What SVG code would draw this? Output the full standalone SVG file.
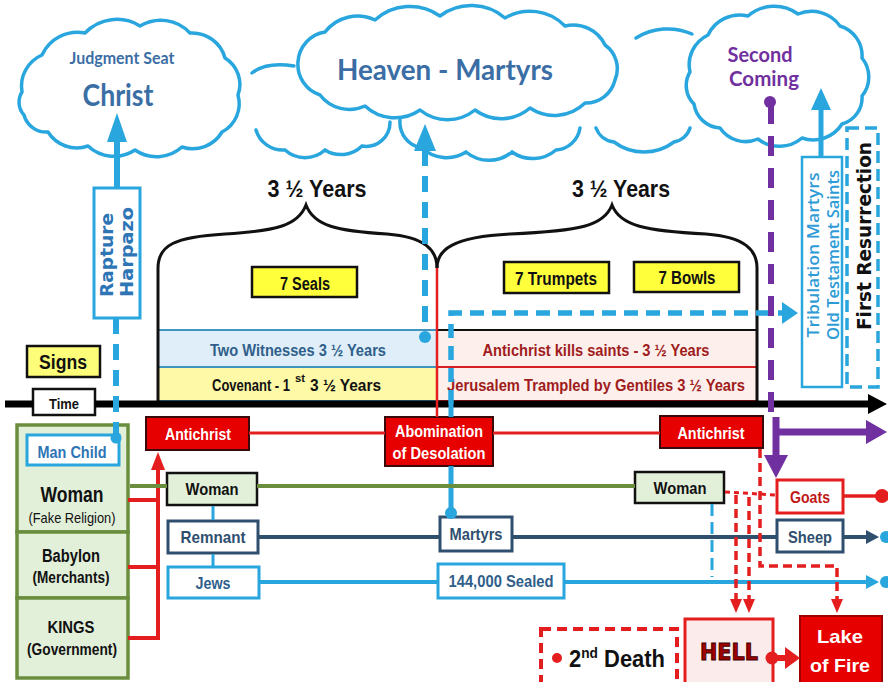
<svg xmlns="http://www.w3.org/2000/svg" width="888" height="682" viewBox="0 0 888 682">
<style>
.cloud{fill:#fff;stroke:#29a6de;stroke-width:3.5;stroke-linejoin:round}
.cl{fill:none;stroke:#29a6de;stroke-width:3.5;stroke-linecap:round}
.cal{font-family:Lato,"Open Sans",sans-serif;font-weight:bold;text-anchor:middle}
.nb{font-family:"Liberation Sans Narrow","Liberation Sans",Arial,sans-serif;font-weight:bold;text-anchor:middle}
.ns{font-family:"Liberation Sans Narrow","Liberation Sans",Arial,sans-serif;font-weight:bold;text-anchor:start}
.nr{font-family:"Liberation Sans Narrow","Liberation Sans",Arial,sans-serif;text-anchor:middle}
.vb{font-family:"DejaVu Sans",Verdana,sans-serif;font-weight:bold;text-anchor:middle}
.os{font-family:"Open Sans","DejaVu Sans",sans-serif;font-weight:600;text-anchor:middle}
.yb{fill:#ffff3c;stroke:#111;stroke-width:2.5}
.rb{fill:#e60000;stroke:#3a0a0a;stroke-width:2}
.gb{fill:#e2efd9;stroke:#6b8e3e;stroke-width:3.5}
.wb{fill:#e2efd9;stroke:#111;stroke-width:2.5}
.cy{stroke:#29a6de;fill:none}
.rl{stroke:#e41e1e;fill:none}
.wt{fill:#fff}
</style>

<!-- clouds -->
<g id="cloud-back">
<path class="cl" d="M294,66 C276,63 262,65 252,73"/>
<path class="cl" d="M256,130 A28,28 0 0 0 285,150 A30,30 0 0 0 325,150 A30,30 0 0 0 362,146 A24,24 0 0 0 390,122 M400,120 A26,26 0 0 0 422,148 A36,36 0 0 0 466,152 A36,36 0 0 0 512,152 A36,36 0 0 0 556,150 A26,26 0 0 0 580,128 M596,128 A22,22 0 0 0 614,142 A50,50 0 0 0 674,142 A20,20 0 0 0 690,128"/>
<path class="cl" d="M636,38 A60,60 0 0 1 692,34"/>
</g>
<g id="cloud-judgment">
<path class="cloud" d="M22,92 A34,34 0 0 1 42,55 A39,39 0 0 1 85,33 A44,44 0 0 1 140,26 A40,40 0 0 1 190,33 A34,34 0 0 1 225,58 A31,31 0 0 1 238,95 A32,32 0 0 1 222,132 A34,34 0 0 1 182,147 A38,38 0 0 1 135,150 A38,38 0 0 1 88,146 A34,34 0 0 1 48,132 A23,23 0 0 1 24,115 A19,19 0 0 1 22,92 Z"/>
<text class="cal" x="122" y="64" font-size="17" fill="#3b6ea5" textLength="105" lengthAdjust="spacingAndGlyphs">Judgment Seat</text>
<text class="cal" x="118" y="106" font-size="30" fill="#3b6ea5" textLength="71" lengthAdjust="spacingAndGlyphs">Christ</text>
</g>
<g id="cloud-heaven">
<path class="cloud" d="M298,62 A32,32 0 0 1 325,32 A41,41 0 0 1 375,20 A52,52 0 0 1 440,16 A52,52 0 0 1 505,18 A49,49 0 0 1 565,26 A35,35 0 0 1 605,45 A29,29 0 0 1 615,80 A30,30 0 0 1 585,103 A44,44 0 0 1 530,108 A44,44 0 0 1 475,110 A44,44 0 0 1 420,110 A44,44 0 0 1 365,106 A37,37 0 0 1 320,95 A32,32 0 0 1 298,62 Z"/>
<text class="cal" x="445" y="80" font-size="29" fill="#3b6ea5" textLength="216" lengthAdjust="spacingAndGlyphs">Heaven - Martyrs</text>
</g>
<g id="cloud-second">
<path class="cloud" d="M690,72 A33,33 0 0 1 708,35 A35,35 0 0 1 748,16 A40,40 0 0 1 798,14 A35,35 0 0 1 840,26 A31,31 0 0 1 862,58 A30,30 0 0 1 862,96 A27,27 0 0 1 842,124 A34,34 0 0 1 802,138 A35,35 0 0 1 758,139 A31,31 0 0 1 720,128 A28,28 0 0 1 694,104 A26,26 0 0 1 690,72 Z"/>
<text class="cal" x="760" y="62" font-size="21" fill="#7030a0" textLength="65" lengthAdjust="spacingAndGlyphs">Second</text>
<text class="cal" x="764" y="86" font-size="21" fill="#7030a0" textLength="70" lengthAdjust="spacingAndGlyphs">Coming</text>
</g>

<!-- braces and bands -->
<g id="band-first">
<rect x="158" y="330" width="279" height="37" fill="#dfeef8" stroke="#3f95bd" stroke-width="2"/>
<rect x="158" y="367" width="279" height="34" fill="#fdf9a6" stroke="#3f95bd" stroke-width="2"/>
<text class="nb" x="298" y="356" font-size="17" fill="#2f5f8a" textLength="176" lengthAdjust="spacingAndGlyphs">Two Witnesses 3 ½ Years</text>
<text class="ns" x="212" y="391" font-size="17" fill="#111" textLength="78" lengthAdjust="spacingAndGlyphs">Covenant - 1</text>
<text class="ns" x="295" y="382" font-size="10" fill="#111" textLength="10" lengthAdjust="spacingAndGlyphs">st</text>
<text class="ns" x="310" y="391" font-size="17" fill="#111" textLength="71" lengthAdjust="spacingAndGlyphs">3 ½ Years</text>
</g>
<g id="band-second">
<rect x="437" y="330" width="320" height="37" fill="#fcefec" stroke="#111" stroke-width="2"/>
<rect x="437" y="367" width="320" height="34" fill="#fcefec" stroke="#d42020" stroke-width="2"/>
<text class="nb" x="596" y="356" font-size="17" fill="#a01c1c" textLength="227" lengthAdjust="spacingAndGlyphs">Antichrist kills saints - 3 ½ Years</text>
<text class="nb" x="596" y="391" font-size="17" fill="#a01c1c" textLength="298" lengthAdjust="spacingAndGlyphs">Jerusalem Trampled by Gentiles 3 ½ Years</text>
</g>
<g id="brace-left">
<path d="M158,402 V268 C158,245 175,237 225,234 C275,231 298,226 306,205 C314,226 337,231 387,234 C425,237 437,250 437,268" fill="none" stroke="#111" stroke-width="3"/>
<text class="nb" x="317" y="197" font-size="24" fill="#111" textLength="99" lengthAdjust="spacingAndGlyphs">3 ½ Years</text>
</g>
<g id="brace-right">
<path d="M437,268 C437,250 452,237 510,234 C580,231 604,226 612,205 C620,226 646,231 706,234 C745,237 757,250 757,268 V402" fill="none" stroke="#111" stroke-width="3"/>
<text class="nb" x="621" y="197" font-size="24" fill="#111" textLength="98" lengthAdjust="spacingAndGlyphs">3 ½ Years</text>
</g>

<!-- nodes -->
<g id="rapture">
<rect x="94" y="188" width="46" height="130" fill="#fff" stroke="#29a6de" stroke-width="3"/>
<text class="vb" transform="translate(113,255) rotate(-90)" font-size="18" fill="#2e75b6" textLength="84" lengthAdjust="spacingAndGlyphs">Rapture</text>
<text class="vb" transform="translate(133,252) rotate(-90)" font-size="18" fill="#2e75b6" textLength="90" lengthAdjust="spacingAndGlyphs">Harpazo</text>
</g>
<g id="tribulation">
<rect x="802" y="157" width="40" height="230" fill="#fff" stroke="#29a6de" stroke-width="2.5"/>
<text class="os" transform="translate(819,255) rotate(-90)" font-size="17" fill="#2e9bd6" textLength="165" lengthAdjust="spacingAndGlyphs">Tribulation Martyrs</text>
<text class="os" transform="translate(839,255) rotate(-90)" font-size="17" fill="#2e9bd6" textLength="170" lengthAdjust="spacingAndGlyphs">Old Testament Saints</text>
</g>
<g id="first-resurrection">
<rect x="847" y="128" width="31" height="259" fill="#fff" stroke="#29a6de" stroke-width="3.5" stroke-dasharray="12 6"/>
<text class="vb" transform="translate(871,236) rotate(-90)" font-size="19" fill="#111" textLength="188" lengthAdjust="spacingAndGlyphs">First Resurrection</text>
</g>
<g id="signs">
<rect x="27" y="346" width="73" height="31" fill="#fdfd7a" stroke="#111" stroke-width="2.5"/>
<text class="nb" x="63" y="369" font-size="20" fill="#111" textLength="48" lengthAdjust="spacingAndGlyphs">Signs</text>
</g>
<g id="time">
<rect x="33" y="389" width="62" height="26" fill="#fff" stroke="#111" stroke-width="2.5"/>
<text class="nb" x="64" y="409" font-size="15" fill="#111" textLength="30" lengthAdjust="spacingAndGlyphs">Time</text>
</g>
<g id="seals">
<rect class="yb" x="252" y="267" width="105" height="30"/>
<text class="nb" x="305" y="290" font-size="18" fill="#111" textLength="50" lengthAdjust="spacingAndGlyphs">7 Seals</text>
</g>
<g id="trumpets">
<rect class="yb" x="504" y="262" width="105" height="31"/>
<text class="nb" x="556" y="285" font-size="18" fill="#111" textLength="82" lengthAdjust="spacingAndGlyphs">7 Trumpets</text>
</g>
<g id="bowls">
<rect class="yb" x="634" y="262" width="105" height="30"/>
<text class="nb" x="687" y="284" font-size="18" fill="#111" textLength="57" lengthAdjust="spacingAndGlyphs">7 Bowls</text>
</g>
<g id="antichrist-1">
<rect class="rb" x="146" y="417" width="103" height="33"/>
<text class="nb wt" x="198" y="440" font-size="17" textLength="66" lengthAdjust="spacingAndGlyphs">Antichrist</text>
</g>
<g id="abomination">
<rect class="rb" x="385" y="417" width="108" height="49"/>
<text class="nb wt" x="439" y="437" font-size="17" textLength="88" lengthAdjust="spacingAndGlyphs">Abomination</text>
<text class="nb wt" x="439" y="459" font-size="17" textLength="93" lengthAdjust="spacingAndGlyphs">of Desolation</text>
</g>
<g id="antichrist-2">
<rect class="rb" x="660" y="416" width="103" height="32"/>
<text class="nb wt" x="711" y="439" font-size="17" textLength="67" lengthAdjust="spacingAndGlyphs">Antichrist</text>
</g>
<g id="woman-religion">
<rect class="gb" x="17" y="425" width="111" height="107"/>
<text class="nb" x="72" y="502" font-size="22" fill="#111" textLength="63" lengthAdjust="spacingAndGlyphs">Woman</text>
<text class="nr" x="72" y="523" font-size="15" fill="#111" textLength="87" lengthAdjust="spacingAndGlyphs">(Fake Religion)</text>
</g>
<g id="man-child">
<rect x="27" y="435" width="92" height="30" fill="#fff" stroke="#29a6de" stroke-width="3"/>
<text class="nb" x="72" y="458" font-size="16" fill="#2e75b6" textLength="69" lengthAdjust="spacingAndGlyphs">Man Child</text>
</g>
<g id="babylon">
<rect class="gb" x="17" y="532" width="111" height="66"/>
<text class="nb" x="71" y="562" font-size="18" fill="#111" textLength="58" lengthAdjust="spacingAndGlyphs">Babylon</text>
<text class="nb" x="71" y="583" font-size="17" fill="#111" textLength="77" lengthAdjust="spacingAndGlyphs">(Merchants)</text>
</g>
<g id="kings">
<rect class="gb" x="17" y="598" width="111" height="80"/>
<text class="nb" x="71" y="633" font-size="17" fill="#111" textLength="47" lengthAdjust="spacingAndGlyphs">KINGS</text>
<text class="nb" x="72" y="655" font-size="17" fill="#111" textLength="90" lengthAdjust="spacingAndGlyphs">(Government)</text>
</g>
<g id="woman-1">
<rect class="wb" x="167" y="473" width="90" height="32"/>
<text class="nb" x="212" y="495" font-size="16" fill="#111" textLength="53" lengthAdjust="spacingAndGlyphs">Woman</text>
</g>
<g id="remnant">
<rect x="168" y="521" width="90" height="32" fill="#fff" stroke="#2f4f6f" stroke-width="3"/>
<text class="nb" x="213" y="543" font-size="17" fill="#2f4f6f" textLength="65" lengthAdjust="spacingAndGlyphs">Remnant</text>
</g>
<g id="jews">
<rect x="168" y="567" width="91" height="31" fill="#fff" stroke="#29a6de" stroke-width="3"/>
<text class="nb" x="213" y="589" font-size="17" fill="#2f5f8a" textLength="35" lengthAdjust="spacingAndGlyphs">Jews</text>
</g>
<g id="martyrs">
<rect x="440" y="517" width="72" height="34" fill="#fff" stroke="#2f4f6f" stroke-width="3"/>
<text class="nb" x="476" y="540" font-size="17" fill="#2f4f6f" textLength="53" lengthAdjust="spacingAndGlyphs">Martyrs</text>
</g>
<g id="sealed">
<rect x="438" y="564" width="126" height="34" fill="#fff" stroke="#29a6de" stroke-width="3"/>
<text class="nb" x="501" y="587" font-size="17" fill="#2f5f8a" textLength="105" lengthAdjust="spacingAndGlyphs">144,000 Sealed</text>
</g>
<g id="woman-2">
<rect class="wb" x="635" y="472" width="89" height="31"/>
<text class="nb" x="680" y="494" font-size="16" fill="#111" textLength="53" lengthAdjust="spacingAndGlyphs">Woman</text>
</g>
<g id="goats">
<rect x="777" y="480" width="66" height="33" fill="#fff" stroke="#e41e1e" stroke-width="3"/>
<text class="nb" x="810" y="503" font-size="17" fill="#c01818" textLength="40" lengthAdjust="spacingAndGlyphs">Goats</text>
</g>
<g id="sheep">
<rect x="777" y="520" width="66" height="32" fill="#fff" stroke="#2f4f6f" stroke-width="3"/>
<text class="nb" x="810" y="543" font-size="17" fill="#2f4f6f" textLength="44" lengthAdjust="spacingAndGlyphs">Sheep</text>
</g>
<g id="second-death">
<rect x="541" y="629" width="136" height="60" fill="#fff" stroke="#e41e1e" stroke-width="4" stroke-dasharray="10 6"/>
<circle cx="557" cy="658" r="5" fill="#e41e1e"/>
<text class="nb" x="617" y="667" font-size="24" fill="#111" textLength="96" lengthAdjust="spacingAndGlyphs">2<tspan dy="-9" font-size="15">nd</tspan><tspan dy="9"> Death</tspan></text>
</g>
<g id="hell">
<rect x="685" y="619" width="88" height="70" fill="#fcebeb" stroke="#e41e1e" stroke-width="3"/>
<text class="vb" x="729" y="660" font-size="23" fill="#a00000" stroke="#3a0000" stroke-width="1" textLength="58" lengthAdjust="spacingAndGlyphs">HELL</text>
</g>
<g id="lake-of-fire">
<rect x="800" y="616" width="82" height="73" fill="#e60000" stroke="#a00000" stroke-width="2"/>
<text class="nb wt" x="840" y="643" font-size="19" textLength="46" lengthAdjust="spacingAndGlyphs">Lake</text>
<text class="nb wt" x="840" y="672" font-size="19" textLength="60" lengthAdjust="spacingAndGlyphs">of Fire</text>
</g>

<!-- connectors -->
<g id="connectors">
<!-- timeline -->
<path d="M5,404 H33 M95,404 H872" stroke="#000" stroke-width="7" fill="none"/>
<polygon points="868,394 887,404 868,414" fill="#000"/>
<!-- rapture -->
<line x1="117" y1="188" x2="117" y2="140" stroke="#29a6de" stroke-width="6"/>
<polygon points="107,142 117,113 127,142" fill="#29a6de"/>
<line class="cy" x1="116" y1="318" x2="116" y2="437" stroke-width="6" stroke-dasharray="16 10"/>
<circle cx="116" cy="438" r="5.5" fill="#29a6de"/>
<!-- heaven martyrs -->
<line class="cy" x1="425" y1="150" x2="425" y2="334" stroke-width="6" stroke-dasharray="16 10"/>
<polygon points="414,151 425,124 436,151" fill="#29a6de"/>
<circle cx="425" cy="337" r="6" fill="#29a6de"/>
<!-- martyrs up to first resurrection -->
<path class="cy" d="M451,513 V466 M451,417 V404" stroke-width="5"/>
<path class="cy" d="M451,404 V313 H783" stroke-width="5.5" stroke-dasharray="14 8"/>
<polygon points="782,302 798,313 782,324" fill="#29a6de"/>
<circle cx="451" cy="513" r="6" fill="#29a6de"/>
<!-- tribulation arrow -->
<line class="cy" x1="821" y1="157" x2="821" y2="108" stroke-width="5"/>
<polygon points="811,110 821,88 831,110" fill="#29a6de"/>
<!-- purple -->
<line x1="771" y1="104" x2="771" y2="415" stroke="#7030a0" stroke-width="6" stroke-dasharray="20 12"/>
<circle cx="770" cy="102" r="6" fill="#7030a0"/>
<line x1="776" y1="417" x2="776" y2="456" stroke="#7030a0" stroke-width="7"/>
<polygon points="764,455 776,478 788,455" fill="#7030a0"/>
<line x1="773" y1="432" x2="866" y2="432" stroke="#7030a0" stroke-width="7"/>
<polygon points="866,420 887,432 866,444" fill="#7030a0"/>
<!-- red antichrist line -->
<line class="rl" x1="249" y1="433" x2="385" y2="433" stroke-width="3"/>
<line class="rl" x1="493" y1="433" x2="660" y2="433" stroke-width="3"/>
<line class="rl" x1="437" y1="268" x2="437" y2="417" stroke-width="2.5"/>
<!-- left red -->
<path class="rl" d="M128,500 H158 M128,567 H158 M128,638 H158 M158,640 V468" stroke-width="4"/>
<polygon points="151,470 158,452 165,470" fill="#e41e1e"/>
<!-- green woman line -->
<path d="M130,486 H167 M257,486 H635" stroke="#6b8e3e" stroke-width="4" fill="none"/>
<!-- cyan small links -->
<path class="cy" d="M213,506 V520 M213,554 V566" stroke-width="3"/>
<!-- remnant line -->
<path d="M259,537 H439 M513,537 H776 M844,537 H868" stroke="#2f4f6f" stroke-width="4" fill="none"/>
<polygon points="866,530 879,537 866,544" fill="#2f4f6f"/>
<circle cx="886" cy="537" r="6" fill="#29a6de"/>
<!-- jews line -->
<path class="cy" d="M260,582 H437 M565,582 H868" stroke-width="4"/>
<polygon points="866,575 879,582 866,589" fill="#29a6de"/>
<circle cx="886" cy="582" r="6" fill="#29a6de"/>
<!-- goats -->
<line class="rl" x1="844" y1="496" x2="878" y2="496" stroke-width="3.5"/>
<circle cx="882" cy="496" r="7" fill="#e41e1e"/>
<path class="rl" d="M725,492 L776,495" stroke-width="3" stroke-dasharray="5 4"/>
<path class="rl" d="M736,495 V600 M749,497 V600 M760,449 V566 H837 V600" stroke-width="3.5" stroke-dasharray="9 5"/>
<polygon points="730,599 736,613 742,599" fill="#e41e1e"/>
<polygon points="743,599 749,613 755,599" fill="#e41e1e"/>
<polygon points="831,599 837,613 843,599" fill="#e41e1e"/>
<!-- woman cyan dashed -->
<line class="cy" x1="712" y1="504" x2="712" y2="577" stroke-width="3" stroke-dasharray="12 6"/>
<!-- hell to lake -->
<circle cx="772" cy="658" r="6.5" fill="#e41e1e"/>
<line class="rl" x1="772" y1="658" x2="787" y2="658" stroke-width="6"/>
<polygon points="785,647 800,658 785,669" fill="#e41e1e"/>
</g>
</svg>
